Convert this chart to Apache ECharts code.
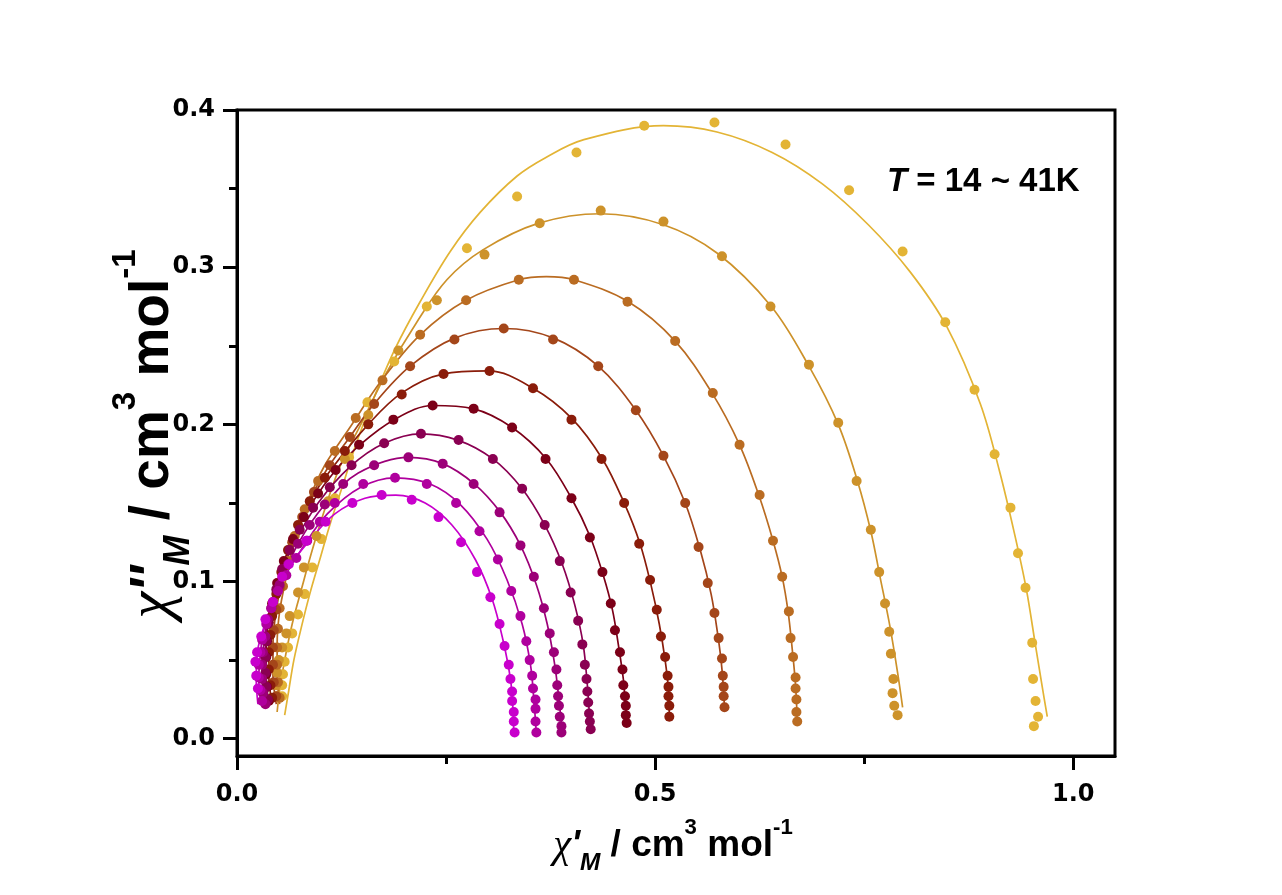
<!DOCTYPE html>
<html lang="en">
<head>
<meta charset="utf-8">
<title>Cole-Cole plot</title>
<script src="https://cdn.jsdelivr.net/npm/echarts@6/dist/echarts.min.js"></script>
<style>
    html, body { margin: 0; padding: 0; background: #fff; }
    #main { width: 1282px; height: 895px; }
</style>
</head>
<body>
<div id="main"></div>
<script>
// measured points [chi', chi''], lowest T (magenta) to highest T (yellow)
const pts1 = [[0.025,0.032],[0.023,0.040],[0.022,0.049],[0.024,0.055],[0.029,0.065],[0.034,0.076],[0.043,0.087],[0.054,0.103],[0.062,0.111],[0.083,0.126],[0.106,0.138],[0.138,0.150],[0.173,0.155],[0.209,0.152],[0.241,0.141],[0.268,0.125],[0.287,0.106],[0.303,0.090],[0.314,0.073],[0.320,0.059],[0.325,0.047],[0.327,0.038],[0.329,0.030],[0.329,0.024],[0.331,0.017],[0.331,0.011],[0.332,0.004]];
const pts2 = [[0.030,0.024],[0.028,0.031],[0.026,0.039],[0.026,0.047],[0.028,0.055],[0.030,0.063],[0.035,0.073],[0.041,0.083],[0.049,0.094],[0.059,0.104],[0.071,0.115],[0.084,0.126],[0.099,0.138],[0.117,0.150],[0.151,0.162],[0.189,0.166],[0.227,0.162],[0.262,0.150],[0.290,0.132],[0.312,0.114],[0.328,0.094],[0.339,0.078],[0.346,0.062],[0.350,0.050],[0.353,0.040],[0.354,0.032],[0.357,0.025],[0.357,0.019],[0.357,0.011],[0.358,0.004]];
const pts3 = [[0.034,0.022],[0.031,0.029],[0.030,0.038],[0.030,0.047],[0.031,0.055],[0.034,0.065],[0.037,0.076],[0.043,0.087],[0.051,0.098],[0.061,0.111],[0.073,0.124],[0.087,0.136],[0.105,0.149],[0.127,0.162],[0.164,0.174],[0.205,0.179],[0.246,0.175],[0.283,0.162],[0.314,0.144],[0.339,0.123],[0.355,0.103],[0.367,0.083],[0.374,0.067],[0.379,0.055],[0.382,0.044],[0.383,0.034],[0.384,0.027],[0.385,0.021],[0.386,0.014],[0.388,0.008],[0.388,0.004]];
const pts4 = [[0.037,0.025],[0.035,0.033],[0.034,0.042],[0.034,0.052],[0.035,0.062],[0.037,0.073],[0.041,0.083],[0.047,0.095],[0.054,0.108],[0.063,0.120],[0.075,0.133],[0.091,0.147],[0.111,0.160],[0.137,0.174],[0.176,0.188],[0.220,0.194],[0.265,0.190],[0.306,0.178],[0.341,0.159],[0.368,0.136],[0.386,0.113],[0.399,0.093],[0.408,0.075],[0.413,0.060],[0.416,0.047],[0.418,0.038],[0.419,0.030],[0.420,0.023],[0.421,0.016],[0.422,0.011],[0.423,0.006]];
const pts5 = [[0.038,0.024],[0.036,0.033],[0.035,0.041],[0.035,0.052],[0.036,0.062],[0.038,0.074],[0.042,0.086],[0.048,0.099],[0.056,0.113],[0.067,0.127],[0.080,0.141],[0.097,0.156],[0.118,0.171],[0.146,0.187],[0.187,0.203],[0.234,0.212],[0.283,0.210],[0.329,0.198],[0.369,0.178],[0.400,0.153],[0.422,0.128],[0.437,0.106],[0.447,0.086],[0.452,0.069],[0.458,0.055],[0.461,0.044],[0.462,0.034],[0.464,0.027],[0.465,0.021],[0.465,0.015],[0.466,0.010]];
const pts6 = [[0.042,0.026],[0.040,0.034],[0.038,0.044],[0.038,0.055],[0.040,0.066],[0.042,0.078],[0.047,0.092],[0.053,0.106],[0.061,0.120],[0.073,0.136],[0.087,0.151],[0.105,0.166],[0.129,0.183],[0.157,0.200],[0.197,0.219],[0.247,0.232],[0.302,0.234],[0.354,0.223],[0.400,0.203],[0.436,0.178],[0.463,0.150],[0.481,0.124],[0.494,0.101],[0.502,0.082],[0.507,0.065],[0.512,0.052],[0.515,0.040],[0.516,0.033],[0.516,0.027],[0.517,0.021],[0.517,0.014]];
const pts7 = [[0.047,0.027],[0.044,0.036],[0.043,0.047],[0.043,0.058],[0.044,0.069],[0.047,0.082],[0.051,0.096],[0.057,0.110],[0.066,0.125],[0.078,0.141],[0.092,0.157],[0.111,0.174],[0.135,0.192],[0.164,0.213],[0.207,0.237],[0.260,0.254],[0.319,0.261],[0.378,0.254],[0.432,0.237],[0.477,0.209],[0.510,0.180],[0.536,0.150],[0.552,0.122],[0.563,0.099],[0.571,0.080],[0.576,0.064],[0.580,0.051],[0.581,0.040],[0.582,0.033],[0.582,0.027],[0.583,0.020]];
const pts8 = [[0.051,0.026],[0.049,0.036],[0.048,0.047],[0.048,0.058],[0.049,0.070],[0.051,0.083],[0.055,0.097],[0.061,0.113],[0.069,0.129],[0.081,0.146],[0.097,0.164],[0.117,0.183],[0.142,0.204],[0.174,0.228],[0.219,0.257],[0.274,0.279],[0.337,0.292],[0.403,0.292],[0.467,0.278],[0.524,0.253],[0.569,0.220],[0.601,0.187],[0.625,0.155],[0.641,0.126],[0.652,0.103],[0.660,0.081],[0.662,0.064],[0.665,0.052],[0.668,0.039],[0.668,0.032],[0.669,0.025],[0.669,0.017],[0.670,0.011]];
const pts9 = [[0.048,0.027],[0.047,0.034],[0.048,0.042],[0.050,0.050],[0.054,0.058],[0.059,0.067],[0.063,0.078],[0.073,0.093],[0.080,0.109],[0.095,0.129],[0.109,0.151],[0.129,0.178],[0.157,0.206],[0.193,0.247],[0.239,0.279],[0.296,0.308],[0.362,0.328],[0.435,0.336],[0.510,0.329],[0.580,0.307],[0.638,0.275],[0.684,0.238],[0.719,0.201],[0.741,0.164],[0.758,0.133],[0.768,0.106],[0.775,0.086],[0.780,0.068],[0.782,0.054],[0.785,0.038],[0.784,0.029],[0.786,0.021],[0.790,0.015]];
const pts10 = [[0.054,0.027],[0.054,0.034],[0.055,0.041],[0.057,0.049],[0.061,0.058],[0.066,0.067],[0.073,0.079],[0.081,0.092],[0.090,0.109],[0.101,0.127],[0.117,0.153],[0.134,0.179],[0.156,0.214],[0.188,0.240],[0.227,0.275],[0.275,0.312],[0.335,0.345],[0.406,0.373],[0.487,0.390],[0.571,0.392],[0.656,0.378],[0.732,0.349],[0.796,0.310],[0.847,0.265],[0.882,0.222],[0.906,0.181],[0.925,0.147],[0.934,0.118],[0.943,0.096],[0.951,0.061],[0.952,0.038],[0.955,0.024],[0.958,0.014],[0.953,0.008]];

// fitted curves
const fit1 = [[0.025,0.022],[0.023,0.038],[0.024,0.054],[0.031,0.069],[0.043,0.087],[0.061,0.108],[0.085,0.125],[0.117,0.143],[0.153,0.153],[0.190,0.155],[0.225,0.150],[0.257,0.136],[0.285,0.114],[0.305,0.089],[0.318,0.063],[0.327,0.038],[0.330,0.019],[0.331,0.003]];
const fit2 = [[0.030,0.022],[0.026,0.038],[0.028,0.054],[0.032,0.069],[0.042,0.085],[0.057,0.103],[0.079,0.122],[0.108,0.143],[0.148,0.160],[0.189,0.166],[0.231,0.162],[0.267,0.149],[0.299,0.127],[0.323,0.101],[0.341,0.073],[0.351,0.047],[0.355,0.025],[0.358,0.003]];
const fit3 = [[0.034,0.022],[0.030,0.038],[0.031,0.055],[0.037,0.076],[0.051,0.098],[0.073,0.124],[0.105,0.149],[0.145,0.169],[0.205,0.179],[0.246,0.175],[0.284,0.162],[0.315,0.144],[0.339,0.123],[0.358,0.098],[0.371,0.073],[0.380,0.047],[0.385,0.025],[0.389,0.004]];
const fit4 = [[0.037,0.022],[0.034,0.041],[0.034,0.060],[0.040,0.081],[0.051,0.103],[0.069,0.125],[0.097,0.150],[0.135,0.173],[0.176,0.188],[0.220,0.194],[0.264,0.190],[0.306,0.178],[0.341,0.159],[0.368,0.136],[0.389,0.111],[0.404,0.085],[0.414,0.060],[0.419,0.034],[0.421,0.019],[0.423,0.005]];
const fit5 = [[0.038,0.022],[0.035,0.041],[0.035,0.060],[0.040,0.081],[0.050,0.103],[0.067,0.127],[0.091,0.151],[0.118,0.171],[0.147,0.187],[0.188,0.203],[0.234,0.212],[0.282,0.210],[0.329,0.198],[0.370,0.178],[0.400,0.153],[0.422,0.129],[0.438,0.104],[0.449,0.082],[0.456,0.060],[0.462,0.038],[0.465,0.019],[0.467,0.010]];
const fit6 = [[0.042,0.022],[0.038,0.041],[0.038,0.060],[0.042,0.081],[0.051,0.103],[0.067,0.127],[0.087,0.151],[0.115,0.173],[0.157,0.200],[0.197,0.220],[0.246,0.232],[0.301,0.234],[0.354,0.223],[0.400,0.204],[0.437,0.178],[0.463,0.150],[0.482,0.124],[0.495,0.098],[0.505,0.073],[0.512,0.050],[0.516,0.031],[0.517,0.014]];
const fit7 = [[0.047,0.022],[0.043,0.041],[0.043,0.060],[0.047,0.082],[0.055,0.104],[0.067,0.127],[0.084,0.149],[0.107,0.171],[0.135,0.192],[0.164,0.213],[0.207,0.237],[0.261,0.255],[0.319,0.261],[0.378,0.255],[0.432,0.237],[0.477,0.209],[0.510,0.180],[0.536,0.150],[0.554,0.120],[0.567,0.092],[0.575,0.066],[0.580,0.044],[0.583,0.020]];
const fit8 = [[0.051,0.022],[0.048,0.041],[0.048,0.060],[0.051,0.081],[0.059,0.103],[0.069,0.127],[0.085,0.151],[0.105,0.174],[0.135,0.198],[0.173,0.228],[0.219,0.257],[0.274,0.279],[0.337,0.292],[0.370,0.294],[0.403,0.292],[0.468,0.278],[0.524,0.253],[0.568,0.220],[0.601,0.187],[0.624,0.155],[0.641,0.126],[0.652,0.103],[0.659,0.081],[0.664,0.057],[0.668,0.034],[0.670,0.011]];
const fit9 = [[0.048,0.017],[0.051,0.031],[0.057,0.050],[0.066,0.073],[0.077,0.095],[0.090,0.120],[0.105,0.146],[0.123,0.173],[0.151,0.203],[0.179,0.233],[0.215,0.265],[0.251,0.292],[0.294,0.311],[0.361,0.328],[0.435,0.334],[0.510,0.327],[0.574,0.309],[0.639,0.275],[0.684,0.237],[0.719,0.200],[0.742,0.164],[0.758,0.132],[0.769,0.103],[0.781,0.071],[0.790,0.042],[0.796,0.020]];
const fit10 = [[0.057,0.015],[0.062,0.031],[0.068,0.050],[0.077,0.071],[0.087,0.092],[0.099,0.114],[0.111,0.136],[0.127,0.162],[0.144,0.190],[0.163,0.216],[0.189,0.248],[0.219,0.278],[0.255,0.310],[0.291,0.335],[0.335,0.358],[0.370,0.370],[0.414,0.381],[0.510,0.390],[0.574,0.386],[0.640,0.373],[0.700,0.353],[0.755,0.327],[0.805,0.297],[0.849,0.262],[0.889,0.213],[0.912,0.170],[0.930,0.130],[0.944,0.095],[0.955,0.059],[0.963,0.033],[0.969,0.014]];

const pointSets = [pts1, pts2, pts3, pts4, pts5, pts6, pts7, pts8, pts9, pts10];
const fitSets = [fit1, fit2, fit3, fit4, fit5, fit6, fit7, fit8, fit9, fit10];
const seriesColors = ['#c800cc', '#b0009e', '#9c0078', '#8a0052', '#7c0018', '#8a1c0a', '#a4461a', '#ba6c22', '#cd922a', '#e3b435'];

const xTicks = [0, 0.5, 1.0];
const xMinorTicks = [0.25, 0.75];
const yTicks = [0, 0.1, 0.2, 0.3, 0.4];
const yMinorTicks = [0.05, 0.15, 0.25, 0.35];

const FONT = 'Liberation Sans, Arial, sans-serif';
const WIDE = 'DejaVu Sans, Liberation Sans, sans-serif';

let chart = echarts.init(document.getElementById('main'));

let series = [];
// fit lines first, high T at the back
for (let i = 9; i >= 0; i--) {
    series.push({
        type: 'line',
        data: fitSets[i],
        smooth: 0.35,
        showSymbol: false,
        symbol: 'none',
        lineStyle: { color: seriesColors[i], width: 1.7 },
        silent: true,
        z: 2
    });
}
// points on top, magenta drawn last
for (let i = 9; i >= 0; i--) {
    series.push({
        type: 'scatter',
        data: pointSets[i],
        symbol: 'circle',
        symbolSize: 10,
        itemStyle: { color: seriesColors[i], opacity: 1 },
        z: 3
    });
}

// rich styles for the axis titles: chi, prime, subscript M, plain, superscript
function nameRich(base) {
    return {
        c: { fontFamily: 'Liberation Serif, serif', fontStyle: 'italic', fontSize: base * 1.1, lineHeight: base * 1.6, verticalAlign: 'middle', fill: '#000' },
        p: { fontFamily: FONT, fontStyle: 'italic', fontWeight: 'bold', fontSize: base, lineHeight: base * 1.6, verticalAlign: 'middle', fill: '#000' },
        s: { fontFamily: FONT, fontStyle: 'italic', fontWeight: 'bold', fontSize: base * 0.66, lineHeight: base * 0.66, verticalAlign: 'bottom', fill: '#000' },
        n: { fontFamily: FONT, fontWeight: 'bold', fontSize: base, lineHeight: base * 1.6, verticalAlign: 'middle', fill: '#000' },
        u: { fontFamily: FONT, fontWeight: 'bold', fontSize: base * 0.6, lineHeight: base * 0.6, verticalAlign: 'top', fill: '#000' }
    };
}

// tick numbers in the reference are wide bold digits
const tickLabel = { fontFamily: WIDE, fontWeight: 'bold', fontSize: 24, color: '#000' };

let option = {
    animation: false,
    backgroundColor: '#fff',
    title: {
        text: '{i|T}{n| = 14 ~ 41K}',
        left: 882,
        top: 160,
        textStyle: {
            rich: {
                i: { fontFamily: FONT, fontStyle: 'italic', fontWeight: 'bold', fontSize: 33, color: '#000' },
                n: { fontFamily: FONT, fontWeight: 'bold', fontSize: 33, color: '#000' }
            }
        }
    },
    graphic: [
        {
            type: 'text', x: 673, y: 846, silent: true,
            style: {
                text: "{c|χ}{p|'}{s|M}{n| / cm}{u|3}{n| mol}{u|-1}",
                rich: nameRich(37), align: 'center', verticalAlign: 'middle'
            }
        },
        {
            type: 'text', x: 153, y: 434, rotation: Math.PI / 2, silent: true,
            style: {
                text: "{c|χ}{p|''}{s|M}{n| / cm}{u|3}{n| mol}{u|-1}",
                rich: nameRich(55), align: 'center', verticalAlign: 'middle'
            }
        }
    ],
    grid: {
        left: 237, top: 110, width: 878, height: 646,
        show: true, borderColor: '#000', borderWidth: 3, backgroundColor: 'transparent'
    },
    xAxis: [
        {
            type: 'value', min: 0, max: 1.05, position: 'bottom',
            axisLine: { show: true, onZero: false, lineStyle: { color: '#000', width: 3 } },
            axisTick: { show: true, customValues: xTicks, length: 14, lineStyle: { color: '#000', width: 3 } },
            axisLabel: Object.assign({ customValues: xTicks, margin: 27, formatter: v => v.toFixed(1) }, tickLabel),
            splitLine: { show: false }
        },
        {
            type: 'value', min: 0, max: 1.05, position: 'bottom',
            axisLine: { show: false, onZero: false },
            axisTick: { show: true, customValues: xMinorTicks, length: 8, lineStyle: { color: '#000', width: 3 } },
            axisLabel: { show: false },
            splitLine: { show: false }
        }
    ],
    yAxis: [
        {
            type: 'value', min: -0.011, max: 0.4, position: 'left',
            axisLine: { show: true, onZero: false, lineStyle: { color: '#000', width: 3 } },
            axisTick: { show: true, customValues: yTicks, length: 14, lineStyle: { color: '#000', width: 3 } },
            axisLabel: Object.assign({ customValues: yTicks, margin: 22, formatter: v => v.toFixed(1) }, tickLabel),
            splitLine: { show: false }
        },
        {
            type: 'value', min: -0.011, max: 0.4, position: 'left',
            axisLine: { show: false, onZero: false },
            axisTick: { show: true, customValues: yMinorTicks, length: 8, lineStyle: { color: '#000', width: 3 } },
            axisLabel: { show: false },
            splitLine: { show: false }
        }
    ],
    series: series
};

chart.setOption(option);
</script>
</body>
</html>
